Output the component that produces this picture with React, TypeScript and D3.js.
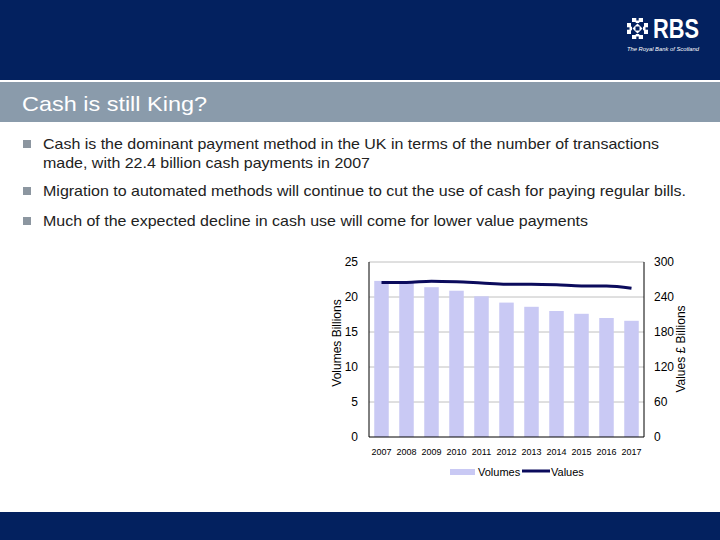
import React from "react";
import * as d3 from "d3";

const years = ["2007", "2008", "2009", "2010", "2011", "2012", "2013", "2014", "2015", "2016", "2017"];
const volumes = [22.3, 22.1, 21.4, 20.9, 20.1, 19.2, 18.6, 18.0, 17.6, 17.0, 16.6];
const values = [265, 265, 267, 266, 264, 262, 262, 261, 259, 259, 255];
const leftTicks = [0, 5, 10, 15, 20, 25];
const rightTicks = [0, 60, 120, 180, 240, 300];
const bullets = [
  ["Cash is the dominant payment method in the UK in terms of the number of transactions", "made, with 22.4 billion cash payments in 2007"],
  ["Migration to automated methods will continue to cut the use of cash for paying regular bills."],
  ["Much of the expected decline in cash use will come for lower value payments"],
];
const bulletWidths = [[616, 327], [643], [545]];

const NAVY = "#03215f";
const FONT = "Liberation Sans, Arial, sans-serif";

function Logo() {
  const cx = 637.5, cy = 28.5;
  const arms = [0, 90, 180, 270];
  return (
    <g>
      {arms.map((a) => (
        <g key={a} transform={`translate(${cx},${cy}) rotate(${a})`} fill="#fff">
          <polygon points="-3,-2 3,-2 0,-5" />
          <polygon points="-5.5,-6.5 -1.2,-6.5 -1.2,-10.5 -5.5,-10.5" />
          <polygon points="1.2,-6.5 5.5,-6.5 5.5,-10.5 1.2,-10.5" />
          <polygon points="-1.8,-5.5 1.8,-5.5 1.8,-8 -1.8,-8" />
        </g>
      ))}
      <text x={653} y={38} fill="#fff" fontFamily={FONT} fontWeight="bold" fontSize={27} textLength={46} lengthAdjust="spacingAndGlyphs">RBS</text>
      <text x={627} y={51} fill="#fff" fontFamily={FONT} fontStyle="italic" fontSize={6} textLength={72} lengthAdjust="spacingAndGlyphs">The Royal Bank of Scotland</text>
    </g>
  );
}

export default function App() {
  const x0 = 369, x1 = 644, yTop = 262, yBot = 437;
  const x = d3.scaleBand<string>().domain(years).range([x0, x1]).paddingInner(0.42).paddingOuter(0.21);
  const xc = d3.scaleBand<string>().domain(years).range([x0, x1]);
  const yL = d3.scaleLinear().domain([0, 25]).range([yBot, yTop]);
  const yR = d3.scaleLinear().domain([0, 300]).range([yBot, yTop]);
  const line = d3
    .line<number>()
    .x((_, i) => (xc(years[i]) as number) + xc.bandwidth() / 2)
    .y((d) => yR(d))
    .curve(d3.curveMonotoneX);

  return (
    <svg width={720} height={540} style={{ position: "fixed", left: 0, top: 0 }} fontFamily={FONT}>
      <rect x={0} y={0} width={720} height={540} fill="#fff" />
      <rect x={0} y={0} width={720} height={80} fill={NAVY} />
      <rect x={0} y={82} width={720} height={40} fill="#8a9bab" />
      <text x={22} y={111} fill="#fff" fontSize={21} textLength={185} lengthAdjust="spacingAndGlyphs">Cash is still King?</text>
      <rect x={0} y={512} width={720} height={28} fill={NAVY} />
      <Logo />

      {bullets.map((lines, i) => {
        const by = [149, 196, 226][i];
        return (
          <g key={i}>
            <rect x={23} y={by - 9} width={8} height={8} fill="#8c96a0" />
            {lines.map((t, j) => (
              <text key={j} x={43} y={by + j * 19} fontSize={14.5} fill="#222" textLength={bulletWidths[i][j]} lengthAdjust="spacingAndGlyphs">{t}</text>
            ))}
          </g>
        );
      })}

      {leftTicks.filter((t) => t > 0).map((t) => (
        <line key={t} x1={x0} x2={x1} y1={yL(t)} y2={yL(t)} stroke="#c0c0c0" strokeWidth={1} />
      ))}

      {volumes.map((v, i) => (
        <rect key={i} x={x(years[i])} y={yL(v)} width={x.bandwidth()} height={yBot - yL(v)} fill="#c9c9f4" />
      ))}

      <line x1={x0} x2={x0} y1={yTop} y2={yBot} stroke="#000" />
      <line x1={x1} x2={x1} y1={yTop} y2={yBot} stroke="#000" />
      <line x1={x0} x2={x1} y1={yBot} y2={yBot} stroke="#000" />

      <path d={line(values) || ""} fill="none" stroke="#0b0b5c" strokeWidth={3} />

      {leftTicks.map((t) => (
        <text key={t} x={358} y={yL(t) + 4} textAnchor="end" fontSize={12} fill="#000">{t}</text>
      ))}
      {rightTicks.map((t) => (
        <text key={t} x={654} y={yR(t) + 4} textAnchor="start" fontSize={12} fill="#000">{t}</text>
      ))}
      {years.map((yr) => (
        <text key={yr} x={(xc(yr) as number) + xc.bandwidth() / 2} y={455} textAnchor="middle" fontSize={9} fill="#000">{yr}</text>
      ))}

      <text transform={`translate(341,343) rotate(-90)`} textAnchor="middle" fontSize={12} fill="#000">Volumes Billions</text>
      <text transform={`translate(685,349) rotate(-90)`} textAnchor="middle" fontSize={12} fill="#000">Values £ Billions</text>

      <rect x={450} y={469} width={25} height={6} fill="#c9c9f4" />
      <text x={478} y={476} fontSize={11} fill="#000">Volumes</text>
      <line x1={522} x2={550} y1={471} y2={471} stroke="#0b0b5c" strokeWidth={3} />
      <text x={551} y={476} fontSize={11} fill="#000">Values</text>
    </svg>
  );
}
